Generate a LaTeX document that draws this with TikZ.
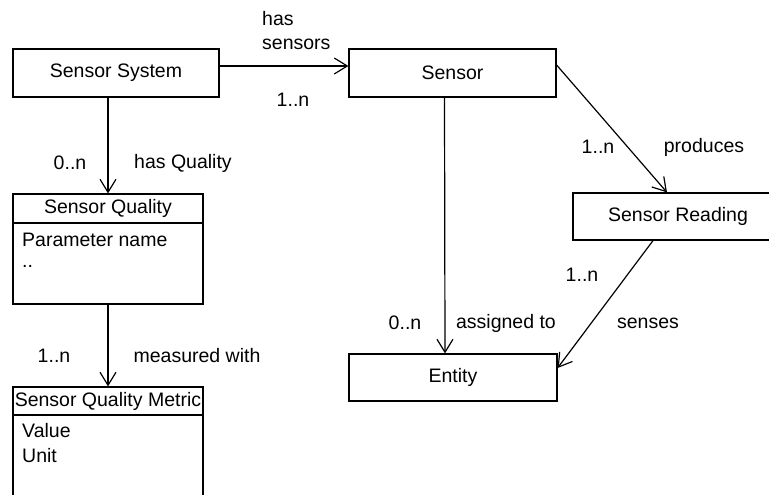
\documentclass[tikz,border=0pt]{standalone}
\usepackage{fontspec}
\setmainfont{Liberation Sans}
\usetikzlibrary{arrows.meta}
\tikzset{
  cls/.style={draw, line width=1.2pt, minimum height=48pt, inner sep=0pt},
  assoc/.style={line width=1.2pt, -{Straight Barb[length=13pt,width=16pt,line width=1.2pt]}},
  attr/.style={anchor=west, inner sep=0pt},
  lbl/.style={inner sep=0pt},
}
\begin{document}
\begin{tikzpicture}[x=1pt, y=-1pt, font=\fontsize{19.5}{24}\selectfont]
    \useasboundingbox (0,0) rectangle (769,495);
    \clip (0,0) rectangle (769,495);
    % classes
    \node[cls, minimum width=206pt] (sys) at (116, 73) {Sensor System};
    \node[cls, minimum width=207pt] (sen) at (452.5, 73) {Sensor};
    \node[cls, minimum width=210pt, minimum height=47pt] (srd) at (678, 216.5) {Sensor Reading};
    \node[cls, minimum width=208pt, minimum height=47pt] (ent) at (453, 377.5) {Entity};
    \node[cls, minimum width=190pt, minimum height=110pt] (sq) at (108, 249) {};
    \node[cls, minimum width=190pt, minimum height=29pt, anchor=north] (sqh) at (sq.north) {Sensor Quality};
    \node[attr] (sq1) at (22, 240) {Parameter name};
    \node[attr] (sq2) at (22, 266) {..};
    \node[cls, minimum width=190pt, minimum height=130pt] (sqm) at (108, 452) {};
    \node[cls, minimum width=190pt, minimum height=28pt, anchor=north] (sqmh) at (sqm.north) {Sensor Quality Metric};
    \node[attr] (sqm1) at (22, 431) {Value};
    \node[attr] (sqm2) at (22, 456) {Unit};
    % associations
    \draw[assoc] ([yshift=7pt]sys.east) -- ([yshift=7pt]sen.west);
    \draw[assoc] (sqh.north |- sys.south) -- (sqh.north);
    \draw[assoc] (sq.south) -- (sqmh.north);
    \draw[assoc] ([xshift=-8pt]sen.south) -- ([xshift=-8pt]ent.north);
    \draw[assoc] ([yshift=8pt]sen.east) -- ([xshift=-11pt]srd.north);
    \draw[assoc] ([xshift=-25pt]srd.south) -- ([yshift=9.5pt]ent.east);
    % labels
    \node[lbl, anchor=north west, align=left] (l1) at (262, 11) {has\\sensors};
    \node[lbl] (m1) at (293, 100) {1..n};
    \node[lbl] (m2) at (70, 163) {0..n};
    \node[lbl] (l2) at (183, 163) {has Quality};
    \node[lbl] (m3) at (54, 356) {1..n};
    \node[lbl] (l3) at (197, 356) {measured with};
    \node[lbl] (m4) at (598, 147) {1..n};
    \node[lbl] (l4) at (704, 147) {produces};
    \node[lbl] (m5) at (405, 323) {0..n};
    \node[lbl] (l5) at (506, 323) {assigned to};
    \node[lbl] (m6) at (582, 275) {1..n};
    \node[lbl] (l6) at (648, 323) {senses};
\end{tikzpicture}
\end{document}
